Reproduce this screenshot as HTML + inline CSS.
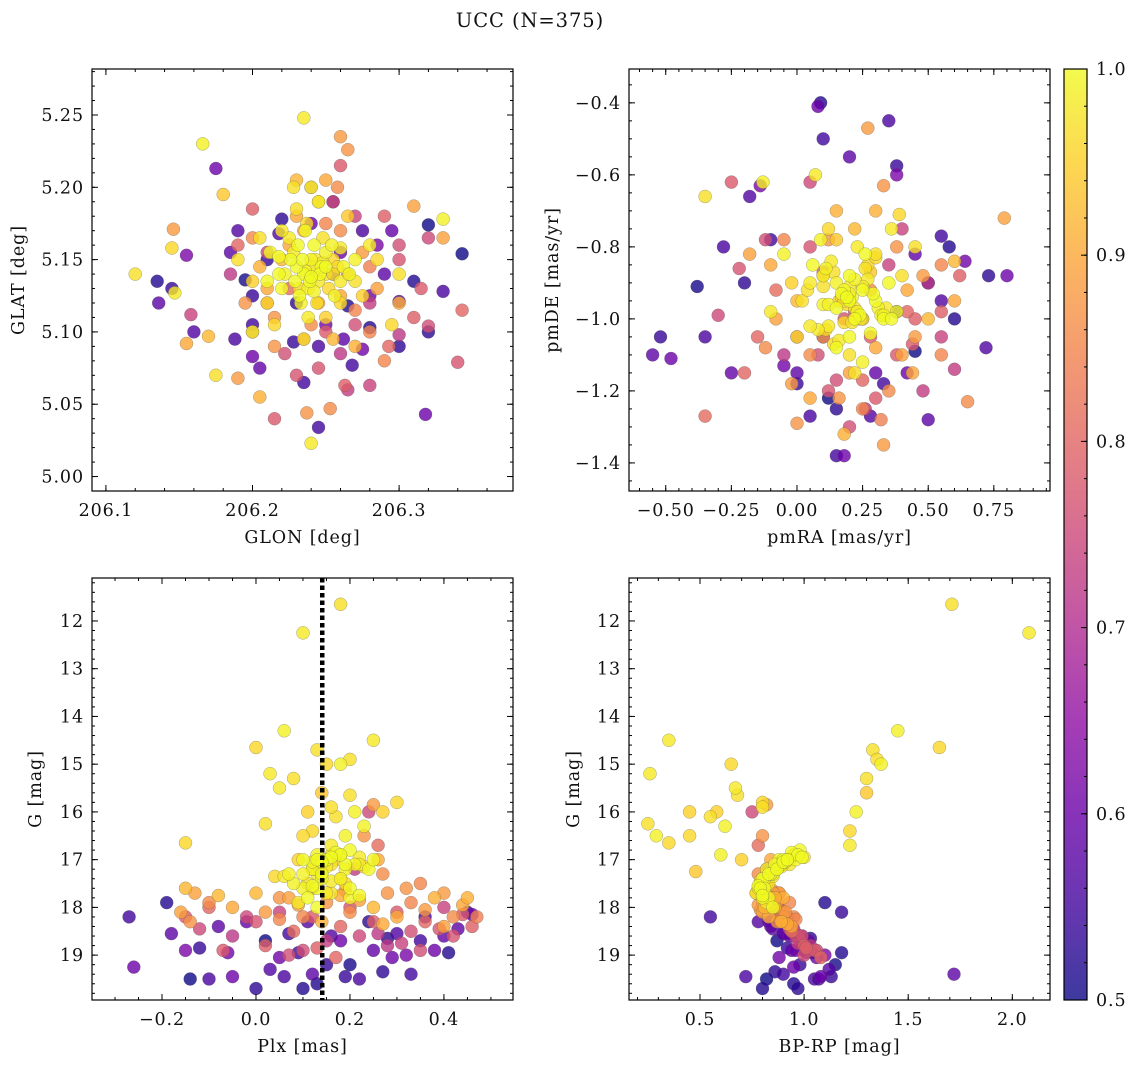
<!DOCTYPE html>
<html><head><meta charset="utf-8">
<style>
html,body{margin:0;padding:0;background:#fff;}
svg{display:block;font-family:"DejaVu Serif","Liberation Serif",serif;}
svg text{letter-spacing:0.9px;}
</style></head>
<body>
<svg id="fig" width="1136" height="1068" viewBox="0 0 1136 1068" xmlns="http://www.w3.org/2000/svg">
<text x="530" y="27" font-size="19.5" text-anchor="middle" fill="#111">UCC (N=375)</text>
</svg>
<script>
// ---- data: class Y (high prob), O, P, V (low prob) ----
const glon=[206.235,206.24,206.245,206.23,206.25,206.238,206.242,206.228,206.255,206.232,
206.247,206.222,206.26,206.236,206.244,206.25,206.229,206.241,206.252,206.234,
206.226,206.262,206.238,206.218,206.248,206.256,206.231,206.243,206.237,206.266,
206.22,206.254,206.24,206.212,206.27,206.233,206.246,206.225,206.258,206.239,
206.235,206.12,206.166,206.145,206.147,206.205,206.33,206.30,206.295,206.24,
206.175,206.18,206.24,206.21,206.28,206.19,206.2,206.275,206.215,206.265,
206.23,206.25,206.245,206.26,206.22,206.235,206.27,206.2,206.285,206.228,
206.24,206.236,206.248,206.21,206.255,206.242,206.218,206.26,206.232,206.25,
206.26,206.265,206.25,206.258,206.23,206.31,206.28,206.19,206.205,206.237,206.253,206.155,206.17,206.146,206.33,206.29,206.27,206.215,206.225,206.26,
206.245,206.22,206.265,206.21,206.25,206.275,206.205,206.24,206.23,206.285,206.195,206.255,206.27,206.235,206.3,206.2,206.26,206.215,206.245,206.28,
206.26,206.32,206.343,206.3,206.34,206.263,206.28,206.21,206.222,206.215,206.265,206.293,206.3,206.255,206.2,206.185,206.315,206.27,206.235,206.158,
206.245,206.29,206.2,206.225,206.28,206.25,206.32,206.19,206.27,206.23,206.31,206.21,206.26,206.24,206.3,
206.245,206.175,206.135,206.136,206.155,206.145,206.33,206.343,206.318,206.32,206.3,206.275,206.268,206.28,206.262,206.228,206.2,206.195,206.188,206.205,
206.22,206.218,206.285,206.255,206.24,206.265,206.29,206.21,206.25,206.275,206.32,206.295,206.2,206.16,206.23,206.26,206.31,206.185,206.245,206.2,
206.28,206.235,206.19,206.3,206.255];
const glat=[5.14,5.15,5.135,5.145,5.14,5.13,5.16,5.155,5.15,5.125,
5.145,5.14,5.135,5.17,5.12,5.155,5.135,5.14,5.13,5.15,
5.15,5.145,5.11,5.14,5.165,5.125,5.16,5.15,5.175,5.14,
5.13,5.16,5.145,5.155,5.135,5.12,5.14,5.165,5.145,5.135,
5.248,5.14,5.23,5.158,5.127,5.165,5.178,5.14,5.105,5.023,
5.07,5.195,5.2,5.12,5.16,5.15,5.1,5.125,5.105,5.18,
5.185,5.11,5.19,5.12,5.17,5.095,5.15,5.135,5.15,5.2,
5.138,5.142,5.148,5.135,5.14,5.128,5.152,5.158,5.13,5.145,
5.235,5.226,5.205,5.2,5.205,5.187,5.1,5.068,5.055,5.044,5.047,5.092,5.097,5.171,5.165,5.08,5.09,5.11,5.16,5.17,
5.12,5.15,5.14,5.13,5.175,5.155,5.145,5.105,5.18,5.13,5.12,5.095,5.115,5.17,5.12,5.165,5.125,5.09,5.19,5.145,
5.215,5.165,5.115,5.098,5.079,5.063,5.063,5.12,5.085,5.04,5.06,5.09,5.15,5.19,5.185,5.14,5.13,5.105,5.095,5.112,
5.075,5.18,5.1,5.13,5.12,5.1,5.104,5.16,5.18,5.07,5.11,5.155,5.085,5.2,5.16,
5.034,5.213,5.135,5.12,5.153,5.13,5.128,5.154,5.043,5.1,5.121,5.088,5.077,5.103,5.095,5.093,5.083,5.136,5.095,5.075,
5.178,5.168,5.16,5.19,5.175,5.118,5.14,5.15,5.105,5.17,5.174,5.17,5.105,5.1,5.12,5.155,5.135,5.155,5.09,5.125,
5.125,5.065,5.17,5.09,5.14];
const pmra=[0.2,0.15,0.25,0.18,0.22,0.1,0.3,0.12,0.27,0.2,
0.17,0.23,0.05,0.33,0.14,0.21,0.26,0.08,0.19,0.35,
0.24,0.11,0.16,0.29,0.02,0.22,0.38,0.13,0.18,0.25,
0.06,0.31,0.2,0.15,0.4,0.1,0.28,0.23,0.17,0.36,
0.07,-0.35,-0.13,0.39,0.36,0.45,-0.05,0.2,0.0,-0.1,
0.3,0.15,0.25,0.12,0.05,0.22,0.32,-0.02,0.18,0.28,
0.1,0.24,0.2,0.14,0.34,0.26,0.09,0.16,0.3,0.21,
0.19,0.12,0.27,0.22,0.04,0.33,0.15,0.25,0.11,0.2,
0.27,0.33,0.6,0.65,0.6,0.79,0.55,0.33,0.18,0.0,-0.12,0.05,0.5,0.45,0.4,-0.05,0.3,0.12,0.42,0.35,
0.2,0.0,0.1,-0.1,0.25,0.48,0.15,0.05,0.3,-0.18,0.38,0.22,0.55,-0.02,0.1,0.28,0.44,0.16,-0.08,0.32,
-0.25,0.05,0.25,-0.05,0.12,0.45,0.55,-0.35,0.2,0.38,0.6,0.42,-0.22,-0.3,0.1,0.5,0.28,0.15,-0.15,0.35,
0.05,0.62,0.22,-0.08,0.48,0.3,0.08,-0.2,0.4,0.18,0.55,0.0,0.26,0.44,-0.12,
0.15,0.18,0.6,0.5,0.38,0.38,0.35,0.45,0.8,0.73,0.72,0.64,0.55,0.58,-0.55,-0.52,-0.48,-0.38,-0.35,-0.25,
-0.2,-0.18,-0.14,0.1,0.08,0.09,0.0,0.0,-0.05,0.05,0.12,0.3,0.33,0.28,0.15,0.42,0.5,0.2,-0.28,0.38,
0.25,-0.1,0.55,0.1,0.45];
const pmde=[-0.95,-0.9,-1.0,-0.92,-0.97,-0.88,-0.95,-1.02,-0.85,-1.05,
-0.93,-0.98,-0.9,-1.0,-0.87,-0.94,-0.82,-1.03,-0.96,-0.9,
-0.99,-0.86,-1.06,-0.93,-0.95,-0.89,-0.98,-0.84,-1.01,-0.92,
-0.85,-0.97,-0.91,-1.08,-0.88,-0.96,-1.04,-0.8,-0.94,-1.0,
-0.6,-0.66,-0.62,-0.71,-0.75,-0.8,-0.82,-1.1,-1.05,-0.98,
-0.82,-0.78,-1.12,-0.75,-1.02,-1.15,-0.99,-0.9,-0.95,-0.87,
-0.91,-1.0,-0.93,-1.07,-0.97,-0.86,-0.78,-0.95,-0.83,-1.01,
-0.94,-0.96,-0.89,-1.0,-0.92,-0.99,-0.97,-0.91,-1.03,-0.88,
-0.47,-0.63,-0.95,-1.23,-0.84,-0.72,-0.85,-1.35,-1.32,-1.29,-1.08,-1.22,-1.0,-1.05,-1.1,-0.78,-0.7,-0.78,-0.92,-1.2,
-1.15,-0.95,-1.05,-0.85,-1.25,-0.88,-0.7,-1.1,-1.08,-0.82,-0.8,-0.75,-1.1,-1.18,-0.88,-0.92,-1.15,-1.22,-1.0,-1.28,
-0.62,-0.62,-1.17,-1.1,-1.2,-1.0,-1.05,-1.27,-1.3,-1.1,-1.14,-0.98,-0.86,-0.99,-0.87,-0.9,-1.05,-1.17,-1.05,-0.85,
-0.8,-0.88,-0.98,-0.92,-1.2,-1.22,-1.1,-1.15,-0.75,-1.0,-0.98,-1.05,-1.25,-1.07,-0.78,
-1.38,-1.38,-1.0,-1.28,-0.6,-0.575,-0.45,-1.09,-0.88,-0.88,-1.08,-0.84,-0.77,-0.8,-1.1,-1.05,-1.11,-0.91,-1.05,-1.15,
-0.9,-0.66,-0.63,-0.5,-0.41,-0.4,-1.15,-1.18,-1.13,-1.27,-1.22,-1.15,-1.18,-1.27,-1.25,-1.15,-0.9,-0.55,-0.8,-0.98,
-1.0,-0.78,-0.95,-1.05,-0.82];
const plx=[0.15,0.12,0.18,0.14,0.16,0.1,0.2,0.13,0.17,0.11,
0.19,0.08,0.22,0.14,0.16,0.12,0.24,0.09,0.18,0.15,
0.13,0.21,0.06,0.17,0.14,0.2,0.1,0.16,0.23,0.12,
0.18,0.07,0.15,0.25,0.11,0.19,0.13,0.22,0.04,0.16,
0.1,0.18,0.06,0.0,0.25,0.13,0.18,0.2,-0.15,0.03,
0.08,0.14,0.21,0.12,0.16,0.02,0.19,0.27,0.1,0.14,
0.17,0.11,0.23,0.15,0.05,0.2,0.13,0.09,0.3,0.16,
0.14,0.18,0.12,0.2,0.16,0.1,0.22,0.15,0.19,0.13,
0.25,0.23,0.26,0.27,-0.15,-0.13,0.35,0.4,0.45,0.05,
-0.1,-0.05,0.0,0.02,0.07,0.1,0.12,0.15,0.18,0.2,0.22,0.25,0.28,0.3,0.33,0.36,0.38,0.42,0.44,-0.16,
-0.14,-0.08,0.05,0.09,0.14,0.19,0.27,0.32,0.4,0.47,
-0.15,-0.12,-0.1,-0.05,0.0,0.02,0.05,0.08,0.1,0.12,0.15,0.18,0.2,0.22,0.25,0.28,0.3,0.33,0.36,0.4,
0.42,0.46,0.24,0.26,0.21,-0.07,0.07,0.17,0.31,0.39,0.13,-0.02,0.26,0.44,0.35,
-0.27,-0.26,-0.19,-0.18,-0.15,-0.12,-0.1,-0.14,-0.05,0.0,0.03,0.05,0.07,0.1,0.12,0.15,0.18,0.2,0.22,0.25,
0.27,0.3,0.32,0.35,0.38,0.41,0.43,0.45,0.46,0.36,0.02,-0.02,0.09,0.16,0.24,0.29,0.13,-0.08,0.06,0.19,
-0.06,0.33,0.11,0.28,0.4];
const gmag=[17.0,17.2,16.9,17.4,17.1,17.6,16.8,17.3,17.0,17.8,
17.1,17.5,16.95,17.3,17.7,17.05,17.2,17.9,17.4,17.0,
17.6,17.1,17.35,16.85,17.25,17.8,17.0,17.45,17.15,17.55,
16.9,17.3,17.7,17.0,17.5,17.2,18.0,17.1,17.35,16.95,
12.25,11.65,14.3,14.65,14.5,14.7,15.0,14.9,16.65,15.2,
15.3,15.6,16.0,16.4,16.7,16.25,16.5,16.0,16.5,17.25,
16.1,16.0,16.3,15.0,15.5,15.65,16.9,17.0,15.8,15.9,
17.05,17.4,17.2,17.6,16.9,17.3,17.75,17.15,17.5,17.0,
15.85,16.5,17.0,17.3,17.6,17.7,17.5,17.7,17.8,17.8,
17.9,18.0,17.7,18.1,17.8,18.2,17.6,17.9,17.75,18.1,17.85,18.0,17.7,18.2,17.9,18.05,17.8,18.2,17.95,18.1,
18.3,17.75,18.25,17.95,18.3,17.65,18.35,17.6,18.4,18.2,
18.2,18.45,18.0,18.6,18.3,18.8,18.1,18.5,18.9,18.2,18.7,18.4,18.0,18.6,18.3,18.8,18.1,18.5,18.3,18.0,
18.6,18.4,16.0,16.7,17.2,18.9,19.0,19.05,18.75,18.45,18.85,18.2,18.55,18.15,18.9,
18.2,19.25,17.9,18.55,18.9,18.85,19.5,19.5,19.45,19.7,19.3,19.05,18.55,19.7,19.4,19.2,18.7,19.2,19.5,18.9,
19.35,18.55,19.0,18.7,18.9,18.95,18.45,18.1,18.15,18.2,18.7,18.3,18.95,18.6,18.3,19.05,19.6,18.4,19.45,19.45,
18.95,19.4,18.3,18.65,18.6];
const bprp=[0.88,0.82,0.95,0.8,0.9,0.78,0.98,0.84,0.93,0.8,
0.86,0.79,1.0,0.83,0.77,0.91,0.87,0.82,0.8,0.96,
0.81,0.89,0.85,0.94,0.84,0.83,0.92,0.79,0.88,0.78,
0.97,0.85,0.8,0.9,0.83,0.86,0.85,0.93,0.82,0.99,
2.08,1.71,1.45,1.65,0.35,1.33,1.37,1.35,0.35,0.26,
1.3,1.3,1.25,1.22,1.22,0.25,0.29,0.45,0.45,0.48,
0.55,0.58,0.62,0.65,0.67,0.68,0.6,0.7,0.8,0.8,
0.9,0.81,0.87,0.79,0.95,0.84,0.8,0.89,0.82,0.92,
0.82,0.8,0.84,0.78,0.8,0.85,0.82,0.88,0.9,0.83,0.8,0.86,0.77,0.91,0.84,0.95,0.79,0.87,0.82,0.9,
0.85,0.81,0.88,0.83,0.93,0.79,0.86,0.9,0.84,0.8,0.87,0.82,0.96,0.78,0.89,0.85,0.92,0.8,0.94,0.88,
0.9,0.95,0.88,0.97,0.92,1.0,0.86,0.94,1.02,0.9,0.98,0.93,0.87,0.96,0.91,1.03,0.89,0.95,0.92,0.86,
0.99,0.94,0.75,0.78,0.82,1.05,1.0,1.08,0.97,0.93,1.01,0.88,0.96,0.9,1.06,
0.55,0.95,1.1,0.9,1.0,0.92,1.05,0.82,1.08,0.97,1.12,0.88,0.93,0.8,1.72,0.98,1.02,1.15,1.07,0.94,
0.86,0.9,1.1,1.0,0.96,1.18,0.85,1.18,0.89,0.92,0.87,0.83,1.04,0.99,0.91,1.06,0.95,0.84,0.72,1.13,
1.01,0.9,0.78,1.03,0.93];
const prob=[1,0.99,0.98,1,0.97,0.99,1,0.98,0.96,1,
1,0.99,0.98,1,0.97,0.99,1,0.98,0.96,1,
1,0.99,0.98,1,0.97,0.99,1,0.98,0.96,1,
1,0.99,0.98,1,0.97,0.99,1,0.98,0.96,1,
0.98,0.97,0.99,0.96,0.98,0.97,0.99,0.97,0.96,0.98,
0.97,0.94,0.99,0.96,0.98,0.97,0.99,0.95,0.96,0.94,
0.97,0.95,0.99,0.96,0.98,0.97,0.99,0.95,0.96,0.97,
1,0.99,0.98,1,0.97,0.99,1,0.98,0.96,1,
0.88,0.87,0.9,0.86,0.92,0.89,0.85,0.88,0.91,0.87,0.86,0.9,0.92,0.88,0.89,0.85,0.91,0.87,0.9,0.86,
0.89,0.92,0.87,0.9,0.85,0.88,0.91,0.86,0.9,0.89,0.87,0.92,0.85,0.88,0.91,0.86,0.9,0.87,0.89,0.84,
0.78,0.75,0.8,0.72,0.77,0.79,0.74,0.81,0.76,0.78,0.73,0.8,0.77,0.75,0.79,0.72,0.78,0.76,0.8,0.74,
0.77,0.79,0.75,0.81,0.73,0.78,0.76,0.8,0.74,0.77,0.79,0.75,0.72,0.78,0.76,
0.55,0.6,0.52,0.58,0.62,0.54,0.56,0.5,0.6,0.53,0.57,0.61,0.55,0.52,0.58,0.54,0.6,0.51,0.56,0.59,
0.53,0.57,0.62,0.55,0.6,0.52,0.58,0.54,0.61,0.56,0.5,0.59,0.55,0.57,0.53,0.6,0.52,0.58,0.56,0.54,
0.61,0.55,0.57,0.53,0.59];
const cbTicks=[0.5,0.6,0.7,0.8,0.9,1.0];
const cbLabels=["0.5","0.6","0.7","0.8","0.9","1.0"];

const NS="http://www.w3.org/2000/svg";
const svg=document.getElementById('fig');
const FS=17.5;
function mk(tag,attrs,parent){const e=document.createElementNS(NS,tag);for(const k in attrs)e.setAttribute(k,attrs[k]);(parent||svg).appendChild(e);return e;}
const stops=[[0,[13,8,135]],[0.1,[65,4,157]],[0.2,[106,0,168]],[0.3,[143,13,164]],[0.4,[177,42,144]],[0.5,[204,71,120]],[0.6,[225,100,98]],[0.7,[242,132,75]],[0.8,[252,166,54]],[0.9,[252,206,37]],[1,[240,249,33]]];
function plasma(t){t=Math.max(0,Math.min(1,t));for(let i=1;i<stops.length;i++){if(t<=stops[i][0]){const a=stops[i-1],b=stops[i];const f=(t-a[0])/(b[0]-a[0]);const c=a[1].map((v,j)=>Math.round(v+(b[1][j]-v)*f));return `rgb(${c[0]},${c[1]},${c[2]})`;}}return 'rgb(240,249,33)';}
function cnorm(p){return (p-0.5)/0.5;}

function panel(o){
  const {name,L,T,R,B,x0,x1,y0,y1,invY,xt,xl,xminor,yt,yl,yminor,xs,ys,xlabel,ylabel,ylabX}=o;
  const g=mk('g',{});
  
  
  const sx=v=>L+(v-x0)/(x1-x0)*(R-L);
  const sy=invY?(v=>T+(v-y0)/(y1-y0)*(B-T)):(v=>B-(v-y0)/(y1-y0)*(B-T));
  const clipId='clip-'+name;
  const cp=mk('clipPath',{id:clipId},g);mk('rect',{x:L,y:T,width:R-L,height:B-T},cp);
  const pts=mk('g',{'clip-path':`url(#${clipId})`},g);
  
  
  const order=prob.map((p,i)=>i).sort((a,b)=>prob[a]-prob[b]);
  order.forEach(i=>{
    const c=mk('circle',{cx:sx(xs[i]).toFixed(1),cy:sy(ys[i]).toFixed(1),r:6.5,fill:plasma(cnorm(prob[i])),'fill-opacity':0.8,stroke:'#555','stroke-opacity':0.5,'stroke-width':0.5},pts);
    
    
  });
  if(o.extra)o.extra(g,sx,sy);
  mk('rect',{x:L,y:T,width:R-L,height:B-T,fill:'none',stroke:'#000','stroke-width':1.2},g);
  const ax=mk('g',{},g);
  
  
  for(let v=Math.ceil(x0/xminor-1e-6)*xminor;v<=x1+1e-9;v+=xminor){const X=sx(v);mk('line',{x1:X,x2:X,y1:B,y2:B-3,stroke:'#000'},ax);mk('line',{x1:X,x2:X,y1:T,y2:T+3,stroke:'#000'},ax);}
  xt.forEach((v,i)=>{const X=sx(v);mk('line',{x1:X,x2:X,y1:B,y2:B-6,stroke:'#000'},ax);mk('line',{x1:X,x2:X,y1:T,y2:T+6,stroke:'#000'},ax);
    const t=mk('text',{x:X,y:B+25,'font-size':FS,'text-anchor':'middle',fill:'#111'},ax);t.textContent=xl[i];});
  const ay=mk('g',{},g);
  
  
  const ylo=Math.min(y0,y1),yhi=Math.max(y0,y1);
  for(let v=Math.ceil(ylo/yminor-1e-6)*yminor;v<=yhi+1e-9;v+=yminor){const Y=sy(v);mk('line',{x1:L,x2:L+3,y1:Y,y2:Y,stroke:'#000'},ay);mk('line',{x1:R,x2:R-3,y1:Y,y2:Y,stroke:'#000'},ay);}
  yt.forEach((v,i)=>{const Y=sy(v);mk('line',{x1:L,x2:L+6,y1:Y,y2:Y,stroke:'#000'},ay);mk('line',{x1:R,x2:R-6,y1:Y,y2:Y,stroke:'#000'},ay);
    const t=mk('text',{x:L-8,y:Y+6,'font-size':FS,'text-anchor':'end',fill:'#111'},ay);t.textContent=yl[i];});
  const xlab=mk('text',{x:(L+R)/2,y:B+52,'font-size':FS,'text-anchor':'middle',fill:'#111'},g);xlab.textContent=xlabel;
  
  
  const ylab=mk('text',{x:ylabX,y:(T+B)/2,'font-size':FS,'text-anchor':'middle',fill:'#111',transform:`rotate(-90 ${ylabX} ${(T+B)/2})`},g);ylab.textContent=ylabel;
  
  
}
const m="\u2212";
panel({name:'glon-glat-panel',L:92,T:69,R:513,B:491,x0:206.0905,x1:206.3777,y0:4.990,y1:5.2818,xt:[206.1,206.2,206.3],xl:["206.1","206.2","206.3"],xminor:0.02,yt:[5.0,5.05,5.1,5.15,5.2,5.25],yl:["5.00","5.05","5.10","5.15","5.20","5.25"],yminor:0.01,xs:glon,ys:glat,xlabel:"GLON [deg]",ylabel:"GLAT [deg]",ylabX:24});
panel({name:'pm-panel',L:629,T:69,R:1050,B:491,x0:-0.640,x1:0.964,y0:-1.478,y1:-0.306,xt:[-0.5,-0.25,0,0.25,0.5,0.75],xl:[m+"0.50",m+"0.25","0.00","0.25","0.50","0.75"],xminor:0.05,yt:[-1.4,-1.2,-1.0,-0.8,-0.6,-0.4],yl:[m+"1.4",m+"1.2",m+"1.0",m+"0.8",m+"0.6",m+"0.4"],yminor:0.05,xs:pmra,ys:pmde,xlabel:"pmRA [mas/yr]",ylabel:"pmDE [mas/yr]",ylabX:558});
panel({name:'plx-g-panel',L:92,T:578,R:513,B:1000,x0:-0.349,x1:0.547,y0:11.1,y1:19.94,invY:true,xt:[-0.2,0,0.2,0.4],xl:[m+"0.2","0.0","0.2","0.4"],xminor:0.05,yt:[12,13,14,15,16,17,18,19],yl:["12","13","14","15","16","17","18","19"],yminor:0.2,xs:plx,ys:gmag,xlabel:"Plx [mas]",ylabel:"G [mag]",ylabX:41,
 extra:(g,sx,sy)=>{const X=sx(0.141);const l=mk('line',{x1:X,x2:X,y1:578,y2:1000,stroke:'#000','stroke-width':4.5,'stroke-dasharray':'4.5 3'},g);}});
panel({name:'cmd-panel',L:629,T:578,R:1050,B:1000,x0:0.159,x1:2.181,y0:11.1,y1:19.94,invY:true,xt:[0.5,1.0,1.5,2.0],xl:["0.5","1.0","1.5","2.0"],xminor:0.1,yt:[12,13,14,15,16,17,18,19],yl:["12","13","14","15","16","17","18","19"],yminor:0.2,xs:bprp,ys:gmag,xlabel:"BP-RP [mag]",ylabel:"G [mag]",ylabX:579});

const cb=mk('g',{});


const defs=mk('defs',{},cb);
const lg=mk('linearGradient',{id:'cbgrad',x1:0,y1:1,x2:0,y2:0},defs);
for(let i=0;i<=20;i++){mk('stop',{offset:i/20,'stop-color':plasma(i/20),'stop-opacity':0.8},lg);}
const CL=1064,CR=1087,CT=69,CB=1000;
mk('rect',{x:CL,y:CT,width:CR-CL,height:CB-CT,fill:'url(#cbgrad)',stroke:'#000','stroke-width':1.2},cb);
const cy=v=>CB-(v-0.5)/0.5*(CB-CT);
for(let v=0.5;v<=1.0001;v+=0.02){mk('line',{x1:CR,x2:CR-3,y1:cy(v),y2:cy(v),stroke:'#000'},cb);}
cbTicks.forEach((v,i)=>{mk('line',{x1:CR,x2:CR-6,y1:cy(v),y2:cy(v),stroke:'#000'},cb);
 const t=mk('text',{x:CR+9,y:cy(v)+6,'font-size':FS,fill:'#111'},cb);t.textContent=cbLabels[i];
 
 });
</script>
</body></html>
